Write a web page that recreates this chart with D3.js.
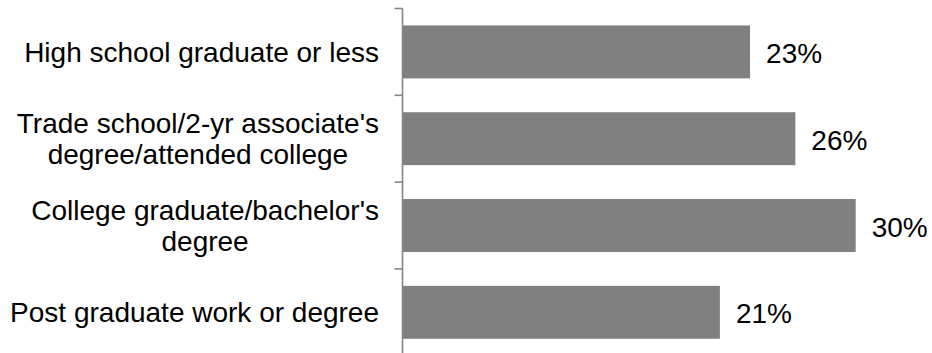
<!DOCTYPE html>
<html>
<head>
<meta charset="utf-8">
<script src="https://cdn.jsdelivr.net/npm/d3@7"></script>
<style>
  html, body { margin: 0; padding: 0; background: #fff; }
  svg { display: block; }
  text { font-family: "Liberation Sans", Arial, sans-serif; }
</style>
</head>
<body>
<svg id="chart" width="932" height="353"></svg>
<script>
// Education level categories (line breaks mark wrapped labels)
const categories = [
  "High school graduate or less",
  "Trade school/2-yr associate's\ndegree/attended college",
  "College graduate/bachelor's\ndegree",
  "Post graduate work or degree"
];
// Share for each category, in percent
const values = [23, 26, 30, 21];
const valueLabels = ["23%", "26%", "30%", "21%"];

const W = 932, H = 353;
const fontSize = 28, lineHeight = 30.6, capH = fontSize * 0.716;
const barColor = "#808080", axisColor = "#868686";

const svg = d3.select("#chart");

const pad = 0.39;
const y = d3.scaleBand()
  .domain(categories)
  .range([8.5, 355.7])
  .paddingInner(pad)
  .paddingOuter(pad / 2);

const x = d3.scaleLinear()
  .domain([0, 30])
  .range([403, 855.7]);

// Bars
svg.append("g").selectAll("rect")
  .data(categories)
  .join("rect")
  .attr("x", x(0))
  .attr("y", d => y(d))
  .attr("width", (d, i) => x(values[i]) - x(0))
  .attr("height", y.bandwidth())
  .attr("fill", barColor);

// Category axis: a vertical line with ticks at band boundaries
const axisX = 402.5;
const step = y.step();
const boundaries = categories.map(c => y(c) - step * pad / 2)
  .concat([y(categories[categories.length - 1]) + y.bandwidth() + step * pad / 2]);

const axis = svg.append("g");
axis.append("line")
  .attr("x1", axisX).attr("x2", axisX)
  .attr("y1", boundaries[0]).attr("y2", boundaries[boundaries.length - 1])
  .attr("stroke", axisColor).attr("stroke-width", 1.6);
axis.selectAll("line.tick")
  .data(boundaries)
  .join("line")
  .attr("class", "tick")
  .attr("x1", axisX - 8).attr("x2", axisX)
  .attr("y1", d => d).attr("y2", d => d)
  .attr("stroke", axisColor).attr("stroke-width", 1.6);

// Category labels: block right-aligned next to the axis, lines centered inside it
const labelRight = 379;
const labels = svg.append("g");
categories.forEach(cat => {
  const lines = cat.split("\n");
  const g = labels.append("g");
  const mid = y(cat) + y.bandwidth() / 2;
  const firstBaseline = mid - ((lines.length - 1) * lineHeight + capH) / 2 + capH;
  const texts = g.selectAll("text")
    .data(lines)
    .join("text")
    .attr("font-size", fontSize)
    .attr("fill", "#000")
    .attr("text-anchor", "middle")
    .attr("y", (d, i) => firstBaseline + i * lineHeight)
    .text(d => d);
  let maxW = 0;
  texts.each(function () { maxW = Math.max(maxW, this.getComputedTextLength()); });
  texts.attr("x", labelRight - maxW / 2);
});

// Value labels at the end of each bar
svg.append("g").selectAll("text")
  .data(categories)
  .join("text")
  .attr("font-size", fontSize)
  .attr("fill", "#000")
  .attr("x", (d, i) => x(values[i]) + 16)
  .attr("y", d => y(d) + y.bandwidth() / 2 + capH / 2 + 1)
  .text((d, i) => valueLabels[i]);
</script>
</body>
</html>
